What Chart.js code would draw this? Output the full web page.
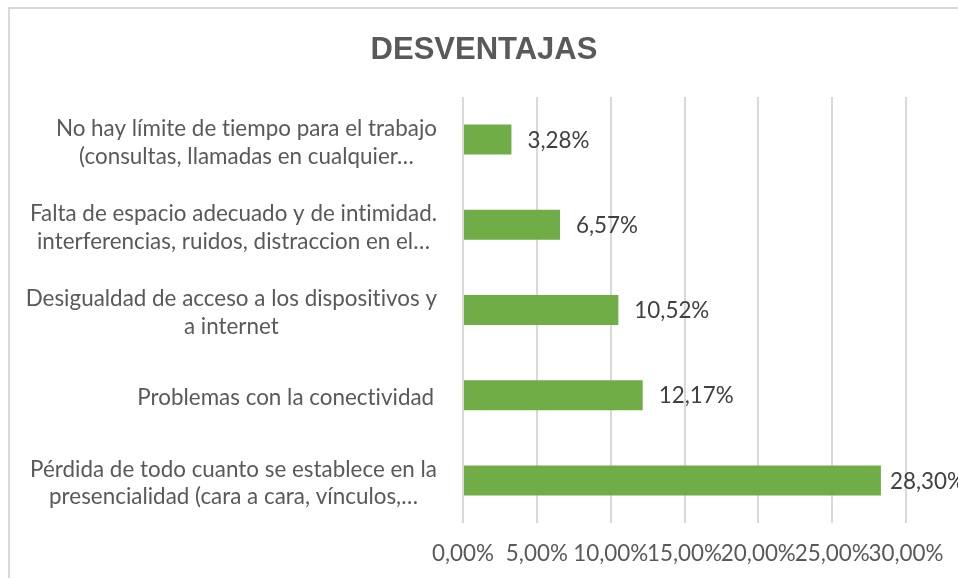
<!DOCTYPE html>
<html><head><meta charset="utf-8">
<script src="https://cdn.jsdelivr.net/npm/chart.js@4.4.1/dist/chart.umd.min.js"></script>
<style>
html,body{margin:0;padding:0;background:#fff;overflow:hidden;width:958px;height:578px;}
#frame{position:absolute;left:8px;top:7px;width:960px;height:580px;border-left:2px solid #d9d9d9;border-top:2px solid #d9d9d9;}
#frame canvas{display:block}
</style></head><body>
<div id="frame"><canvas id="c" width="948" height="569"></canvas></div>
<script>
const chartTitle = 'DESVENTAJAS';
const categories = [
  ['No hay límite de tiempo para el trabajo', '(consultas, llamadas en cualquier…'],
  ['Falta de espacio adecuado y de intimidad.', 'interferencias, ruidos, distraccion en el…'],
  ['Desigualdad de acceso a los dispositivos y', 'a internet'],
  ['Problemas con la conectividad '],
  ['Pérdida de todo cuanto se establece en la', 'presencialidad (cara a cara, vínculos,…']
];
const values = [3.28, 6.57, 10.52, 12.17, 28.30];
const axisMin = 0, axisMax = 30, axisStep = 5;

const FONT = 'Lato, "Open Sans", sans-serif';
const FSIZE = 22.4;
const fmt = v => Number(v).toFixed(2).replace('.', ',') + '%';

const labelPlugin = {
  id: 'catLabels',
  afterDraw(chart) {
    const ctx = chart.ctx, ys = chart.scales.y;
    ctx.save();
    ctx.font = FSIZE + 'px ' + FONT;
    if ('letterSpacing' in ctx) ctx.letterSpacing = '0.01px';
    ctx.fillStyle = '#595959';
    ctx.textAlign = 'center';
    ctx.textBaseline = 'middle';
    const right = 427, lh = 27.5;
    categories.forEach((lines, i) => {
      const y = ys.getPixelForValue(i) + 3;
      const w = Math.max(...lines.map(l => ctx.measureText(l).width));
      const cx = right - w / 2;
      lines.forEach((l, j) => {
        ctx.fillText(l.trim(), cx, y + (j - (lines.length - 1) / 2) * lh);
      });
    });
    ctx.restore();
  }
};

const valuePlugin = {
  id: 'valLabels',
  afterDatasetsDraw(chart) {
    const ctx = chart.ctx;
    const meta = chart.getDatasetMeta(0);
    ctx.save();
    ctx.font = FSIZE + 'px ' + FONT;
    ctx.fillStyle = '#404040';
    ctx.textAlign = 'left';
    ctx.textBaseline = 'middle';
    meta.data.forEach((bar, i) => {
      const t = fmt(values[i]);
      const w = ctx.measureText(t).width;
      const x = Math.min(bar.x + 16, chart.width + 7 - w);
      ctx.fillText(t, x, bar.y + 1);
    });
    ctx.restore();
  }
};

new Chart(document.getElementById('c'), {
  type: 'bar',
  data: {
    labels: categories,
    datasets: [{
      data: values,
      backgroundColor: '#70AD47',
      borderWidth: 0,
      barPercentage: 0.352,
      categoryPercentage: 1
    }]
  },
  options: {
    indexAxis: 'y',
    responsive: false,
    animation: false,
    layout: { padding: 0 },
    plugins: {
      legend: { display: false },
      tooltip: { enabled: false },
      title: {
        display: true,
        text: chartTitle,
        color: '#595959',
        font: { family: '"Liberation Sans", Arial, sans-serif', weight: 'bold', size: 31, lineHeight: 1.2 },
        padding: { top: 22.4, bottom: 28.4 }
      }
    },
    scales: {
      x: {
        min: axisMin, max: axisMax,
        grid: { color: '#d9d9d9', lineWidth: 2, drawTicks: false },
        border: { display: false },
        ticks: {
          stepSize: axisStep,
          padding: 17,
          color: '#595959',
          font: { family: FONT, size: FSIZE },
          callback: v => fmt(v),
          maxRotation: 0
        },
        afterFit(s) { s.height = 55; s.paddingRight = 52; }
      },
      y: {
        grid: { display: false },
        border: { display: false },
        ticks: { display: false },
        afterFit(s) { s.width = 453; }
      }
    }
  },
  plugins: [labelPlugin, valuePlugin]
});
</script>
</body></html>
